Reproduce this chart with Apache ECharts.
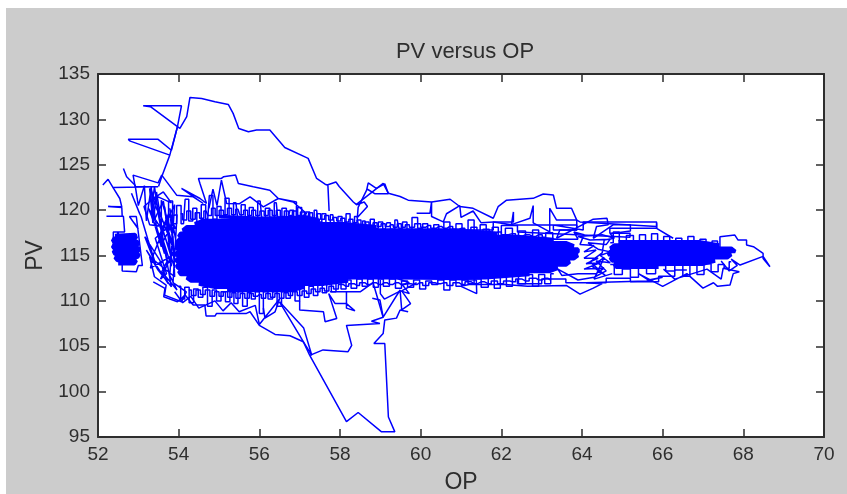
<!DOCTYPE html>
<html><head><meta charset="utf-8">
<style>html,body{margin:0;padding:0;background:#fff;width:847px;height:494px;overflow:hidden}
#bg{position:absolute;left:6px;top:8px;width:841px;height:486px;background:#cccccc}
#c{position:absolute;left:0;top:0;width:847px;height:494px}</style>
<script src="https://cdn.jsdelivr.net/npm/echarts@6/dist/echarts.min.js"></script></head>
<body><div id="bg"></div><div id="c"></div>
<script>
const titleText = 'PV versus OP', xName = 'OP', yName = 'PV';

const upperLoop = [[53.5,122.6],[53.58,123.67],[53.78,126.06],[53.97,129.19],[54.03,129.0],[54.2,130.29],[54.28,132.42],[54.57,132.31],[54.9,131.94],[55.23,131.65],[55.35,130.66],[55.49,129.0],[55.73,128.64],[55.93,128.82],[56.26,128.82],[56.63,126.9],[57.21,125.7],[57.42,123.49],[57.63,122.86],[57.7,122.75],[57.73,119.9],[57.7,122.8],[57.9,123.1],[57.98,122.6],[58.33,120.9],[58.41,120.6],[58.6,120.9],[58.68,120.4],[58.43,119.2],[58.45,120.3],[58.66,122.2],[58.7,123],[58.9,122.4],[59.11,122.9],[59.2,121.8],[58.87,121.8],[58.68,122.3]];
const flagBranches = [[53.97,129.19],[53.3,131.4],[53.12,131.5],[54.07,131.5],[53.97,129.19],[53.82,126.6],[53.49,127.8],[52.75,127.8],[52.8,127.6],[53.78,126.06]];
const leftCrest = [[52.12,122.77],[52.25,123.39],[52.37,122.5],[53.49,122.57],[52.92,122.6],[52.87,123.86],[53.49,123.0],[53.58,123.86],[53.95,121.65],[54.36,121.47],[54.61,120.73],[54.07,122.4],[54.53,121.28],[54.69,120.73],[54.53,122.9],[54.49,123.49],[55.06,123.49],[55.11,123.67],[55.41,123.86],[55.48,122.94],[55.85,122.57],[56.26,122.2],[56.47,121.28],[56.84,120.9],[57.17,119.63],[56.92,118.9],[56.92,120.9],[56.47,121.28],[56.1,120.36],[55.77,121.47],[55.5,120.7],[55.19,120.73],[55.06,123.3],[54.95,120.5],[54.85,122.3],[54.75,120.2]];
const leftSpur = [[52.63,124.59],[52.71,123.67],[52.92,122.75],[53.0,120.5],[53.15,122.7],[53.2,118.8],[53.32,122.6],[53.38,119],[53.45,122],[53.55,119.2],[53.42,120.5],[53.28,122.4],[53.36,118.6],[53.62,121],[53.7,118.8]];
const leftEdge = [[52.37,122.5],[52.54,121.28],[52.59,120.36],[52.25,120.4],[52.59,120.3],[52.6,119.33],[52.21,119.33],[52.63,119.33],[52.66,117.6],[52.38,117.6],[52.38,116.2],[52.5,117.6],[52.6,114],[52.6,113.3],[52.95,113.2],[53.0,113.9],[53.1,113.9],[52.95,119.3],[52.78,119.3],[53,117.9],[52.9,118.6]];
const leftBlock = [[52.42,117.2],[52.92,117.3],[52.95,116.9],[52.4,116.9],[52.36,116.55],[52.98,116.55],[53.0,116.2],[52.4,116.2],[52.36,115.85],[53.0,115.85],[53.02,115.5],[52.38,115.5],[52.42,115.15],[53.02,115.15],[52.98,114.8],[52.42,114.8],[52.48,114.45],[52.95,114.45],[52.9,114.1],[52.5,114.1]];
const leftMesh = [[52.83,121.85],[53.03,119.64],[53.07,119.27],[53.24,116.7],[53.45,113.76],[53.16,117.07],[53.53,114.5],[53.74,111.9],[53.2,115.6],[53.49,113.4],[53.82,111.55],[53.45,120.74],[53.57,118.17],[53.78,115.6],[53.65,120.4],[53.74,117.8],[53.94,114.9],[53.32,122.2],[53.45,118.17],[53.65,115.2],[53.4,122.6],[53.32,119.64],[53.57,115.96],[53.57,121.1],[53.86,117.07],[53.9,112.66],[53.28,114.86],[53.4,112.66],[53.69,111.74],[53.65,110.63],[54.07,109.9],[54.19,111],[53.86,112],[53.96,119.5],[53.72,119.3],[53.82,113.8],[53.62,116.6],[53.86,118.6],[53.42,116.9],[53.7,113],[53.55,112.4],[53.95,116.2],[53.78,120.2],[53.9,113.6],[53.5,119.4],[53.72,114.4],[53.58,113.2],[53.96,111.2],[53.78,112.8],[53.9,120.6],[53.66,118.3],[53.38,115.2],[53.3,113.6],[53.84,115],[53.6,117.7],[53.25,120.2],[53.52,117.2],[53.75,119.6],[53.92,118],[53.28,118.4],[53.14,120.4],[53.35,121.2],[53.62,122],[53.82,120.8],[53.42,121.6]];
const lowerLeftEdge = [[53.37,112.1],[53.66,111.38],[53.63,110.46],[53.97,109.9],[54.16,110.64],[54.36,109.54],[54.65,109.54],[54.68,108.33],[54.9,108.33],[54.94,108.62],[55.68,108.62],[55.77,108.8],[56.0,107.3],[56.39,106.3],[56.76,106.16],[57.09,105.5],[57.3,104.0],[57.1,107],[56.5,109.9]];
const lowerSpike = [[56.5,109.9],[57.09,105.5],[57.25,104.0],[57.58,104.6],[58.2,104.4],[58.29,105.1],[58.16,107.3],[58.99,107.5],[58.78,107.75],[59.07,108.2],[58.99,110.1],[58.8,110.3]];
const spikeTail = [[57.25,104.0],[58.16,96.7],[58.45,97.7],[59.03,95.57],[59.36,95.57],[59.2,97.2],[59.11,105.3],[58.84,105.3],[59.07,106.4],[59.11,107.9],[59.4,108.1],[59.49,109],[59.69,108.8]];
const lowerHooks = [[56.1,109.2],[56.14,108.1],[56.39,108.8],[56.5,110.2],[56.0,107.4],[55.9,109.5],[55.5,108.8],[55.3,109.8],[55.1,108.9],[54.9,110],[54.5,109.2],[54.3,110.5],[54.1,109.8],[53.9,111]];
const lowerSteps = [[57.0,110],[57.0,109],[57.59,108.8],[57.63,107.7],[57.92,108.05],[57.72,110.8],[57.88,109.7],[58.16,109.7],[58.16,109.2],[58.37,108.9],[58.16,109.7],[58.16,111],[57.75,111],[58.5,111],[58.82,112],[59.07,108.2],[59.49,111.2],[59.53,109],[59.75,109.7],[59.53,111.1],[59.9,112]];
const lowerRight = [[59.0,112.3],[59.0,110.8],[59.1,110.2],[59.5,111.1],[59.72,110.8],[59.54,111.8],[59.72,112],[59.4,112.5],[61.38,112.3],[61.39,110.8],[61.0,111.6],[61.2,111.8],[62.1,111.8],[62.65,111.6],[63.61,111.7],[63.95,110.75],[64.28,111.4],[64.5,111.9],[64.1,112],[65.6,112.2],[66.0,112.6],[65.65,112.3],[65.4,113],[66,111.6],[66.6,113],[67.0,111.4],[67.26,112],[67.36,111.6],[67.67,111.75],[67.75,113],[67.9,113.2],[67.5,113.6],[67.45,112.4],[67.1,113.5],[66.3,112.4],[66.02,113.5]];
const coreWest = [[55.0,119.3],[56,119.1],[57.2,119.2],[57.5,118.85],[56,118.9],[54.6,118.85],[54.4,118.5],[56,118.5],[58.1,118.5],[58.9,118.15],[56,118.2],[54.2,118.15],[54.1,117.8],[57,117.8],[60.8,117.8],[61.9,117.45],[57,117.5],[54.05,117.45],[54,117.1],[58,117.1],[62.4,117.1],[63.3,116.75],[58,116.8],[54,116.75],[53.95,116.4],[63.6,116.4],[63.8,116.05],[53.95,116.05],[53.95,115.7],[63.9,115.7],[63.9,115.35],[53.95,115.35],[53.95,115],[63.9,115],[63.8,114.65],[53.95,114.65],[53.95,114.3],[63.7,114.3],[63.6,113.95],[53.95,113.95],[53.98,113.6],[63.4,113.6],[63.2,113.25],[54,113.25],[54.05,112.9],[62.7,112.9],[61.6,112.55],[54.2,112.55],[54.3,112.2],[58.2,112.2],[57.6,111.85],[54.5,111.85],[54.9,111.5],[57.1,111.5],[56.8,111.15],[55.2,111.15]];
const coreEast = [[64.9,116.5],[66.9,116.5],[67.4,116.15],[64.8,116.15],[64.7,115.8],[67.7,115.8],[67.8,115.45],[64.7,115.45],[64.65,115.1],[67.7,115.1],[67.6,114.75],[64.7,114.75],[64.75,114.4],[67.3,114.4],[67,114.05],[64.8,114.05],[64.85,113.7],[65.9,113.7]];
const topFringe = [[53.7,118],[53.8,121],[53.9,118.5],[54,120.5],[54.12,118.5],[54.2,121.2],[54.3,118.8],[54.4,120.2],[54.5,118.7],[54.62,120.6],[54.72,119],[54.8,121.6],[54.9,119],[55,120.4],[55.1,119.2],[55.2,121.3],[55.3,119.2],[55.42,120.8],[55.5,119.2],[55.6,120.6],[55.7,119.2],[55.8,120.3],[55.9,119.1],[56.02,121],[56.1,119.1],[56.2,120.2],[56.32,119.1],[56.42,120.8],[56.5,119],[56.62,120.2],[56.72,119.2],[56.8,120],[56.9,119.2],[57,120.3],[57.1,119],[57.2,119.8],[57.3,118.9],[57.42,120],[57.5,118.7],[57.6,119.6],[57.7,118.6],[57.82,119.5],[57.9,118.5],[58,119.3],[58.1,118.5],[58.2,119.6],[58.3,118.3],[58.42,119.3],[58.5,118.2],[58.62,118.8],[58.7,118.1],[58.8,119],[58.9,118],[59,118.7],[59.12,117.9],[59.2,118.6],[59.3,117.9],[59.42,118.9],[59.5,118],[59.6,118.7],[59.72,117.9],[59.85,119.2],[60,118],[60.1,118.5],[60.25,117.8],[60.4,118.4],[60.5,117.8],[60.65,118.7],[60.8,117.7],[60.95,118.5],[61.1,117.5],[61.25,118.9],[61.4,117.4],[61.55,118.4],[61.7,117.1],[61.85,118.1],[62,117],[62.2,118],[62.35,116.8],[62.5,117.7],[62.7,116.8],[62.85,117.8],[63,116.8],[63.2,117.5],[63.35,116.8]];
const topFringeFine = [[54.05,119.6],[54.15,118.9],[54.25,119.9],[54.35,119],[54.47,119.7],[54.57,119.1],[54.68,119.9],[54.77,119.4],[54.86,120.2],[54.95,119.4],[55.06,120],[55.16,119.5],[55.26,120.2],[55.36,119.5],[55.47,120.1],[55.56,119.5],[55.66,120],[55.76,119.4],[55.86,120],[55.96,119.4],[56.07,119.9],[56.17,119.4],[56.27,120],[56.37,119.4],[56.47,120],[56.57,119.3],[56.67,119.9],[56.77,119.4],[56.87,119.9],[56.97,119.4],[57.07,119.8],[57.17,119.3],[57.27,119.7],[57.37,119.1],[57.47,119.6],[57.57,119],[57.67,119.4],[57.77,118.9],[57.87,119.2],[57.97,118.8],[58.07,119.1],[58.17,118.7],[58.27,119],[58.37,118.6],[58.47,118.9],[58.57,118.4],[58.67,118.7],[58.77,118.3],[58.87,118.6],[58.97,118.2],[59.07,118.5],[59.17,118.2],[59.27,118.4],[59.37,118.1],[59.47,118.5],[59.57,118.1],[59.67,118.4],[59.77,118.1],[59.93,118.5],[60.07,118.1],[60.18,118.3],[60.32,118],[60.45,118.2],[60.58,118],[60.72,118.2],[60.87,117.9],[61.02,118],[61.17,117.7],[61.32,118.1],[61.47,117.6],[61.62,117.9],[61.78,117.4],[61.92,117.6],[62.08,117.3],[62.27,117.4],[62.43,117.1],[62.6,117.3],[62.78,117.1],[62.93,117.3],[63.1,117]];
const bottomFringe = [[54,111.6],[54.1,110.2],[54.2,111.5],[54.32,109.8],[54.42,111.3],[54.55,110.4],[54.65,111.5],[54.78,109.4],[54.88,111.2],[55,110],[55.1,111],[55.22,109.9],[55.32,111],[55.42,109.7],[55.52,111],[55.65,109.4],[55.75,110.9],[55.85,110.2],[55.95,111],[56.05,108.6],[56.15,111],[56.28,110.2],[56.38,111],[56.5,109.4],[56.6,111],[56.72,110.3],[56.82,111.2],[56.95,110],[57.05,111.6],[57.18,110.4],[57.28,111.6],[57.4,110.6],[57.5,111.8],[57.62,110.9],[57.72,112],[57.85,111],[57.95,112.2],[58.1,111.3],[58.2,112.3],[58.35,111.4],[58.48,112.4],[58.62,111.6],[58.75,112.4],[58.9,111.5],[59,112.4],[59.15,111.6],[59.3,112.4],[59.45,111.4],[59.6,112.2],[59.75,111.5],[59.9,112.3],[60.05,111.3],[60.2,112.2],[60.35,111.8],[60.5,112.3],[60.65,111.2],[60.8,112.3],[60.95,111.6],[61.1,112.3],[61.25,111.9],[61.4,112.4],[61.6,111.5],[61.75,112.6],[61.9,111.4],[62.05,112.6],[62.2,111.6],[62.35,112.8],[62.5,111.9],[62.7,112.9],[62.85,111.6],[63,112.9],[63.15,111.9],[63.3,113]];
const bottomFringeFine = [[54.25,111.2],[54.38,110.6],[54.48,111.2],[54.6,110.7],[54.72,111.2],[54.83,110.5],[54.95,111],[55.05,110.5],[55.16,111],[55.27,110.4],[55.37,110.9],[55.47,110.3],[55.58,110.8],[55.7,110.3],[55.8,110.8],[55.9,110.5],[56,110.7],[56.1,110.3],[56.22,110.8],[56.33,110.4],[56.44,110.8],[56.55,110.3],[56.67,110.9],[56.77,110.6],[56.88,111],[57,110.6],[57.12,111.1],[57.23,110.8],[57.34,111.3],[57.45,111],[57.56,111.4],[57.67,111.1],[57.78,111.6],[57.9,111.3],[58.02,111.8],[58.15,111.6],[58.28,111.9],[58.42,111.7],[58.55,112],[58.68,111.8],[58.82,112],[58.97,111.8],[59.1,112],[59.23,111.8],[59.38,112],[59.52,111.8],[59.68,111.9],[59.83,111.8],[59.98,112],[60.12,111.7],[60.28,112],[60.43,111.9],[60.58,112],[60.72,111.7],[60.88,112],[61.02,111.8],[61.18,112.1],[61.33,111.9],[61.5,112.1],[61.67,111.9],[61.83,112.2],[61.98,111.9],[62.13,112.2],[62.28,112.1],[62.43,112.4],[62.6,112.2],[62.78,112.5],[62.93,112.3],[63.08,112.5],[63.22,112.3]];
const gapWeave = [[63.3,116.8],[63.9,116.8],[63.8,117.6],[64.05,117.3],[63.95,116.2],[64.3,116.1],[64.05,115.4],[64.35,115.6],[64.15,115],[64.05,114.7],[64.4,114.7],[64.1,114.1],[64.45,114.2],[64.05,113.5],[64.55,113.6],[64.35,113],[63.9,113],[63.5,112.8],[63.4,113.5],[63.9,112.3],[64.3,112.6],[64.6,113.3],[64.35,114.4],[64.7,114.2],[64.45,115],[64.7,115.4],[64.4,115.7],[64.15,116.4],[64.6,116.2],[64.7,116.8],[64.2,116.7],[63.9,117.1],[64.5,117.3],[64.8,116.9],[64.55,116.7],[64.5,115.3],[64.2,114.3],[64.58,112.8],[64.25,113.8],[64.55,114.8],[64.3,112.4],[64.75,113]];
const eastFringe = [[64.7,116.4],[64.85,117.6],[65,116.6],[65.2,117.2],[65.35,116.5],[65.5,117.3],[65.65,116.6],[65.8,117.4],[65.95,116.4],[66.1,117.1],[66.25,116.2],[66.4,116.9],[66.55,116.3],[66.7,117.1],[66.85,116.1],[67,116.8],[67.15,116],[67.3,116.6],[67.42,115.9]];
const eastTail = [[67.42,115.9],[67.42,117.07],[67.79,117.25],[67.87,116.7],[68.08,116.7],[68.08,116.15],[68.25,115.97],[68.49,115.23],[68.49,114.68],[68.66,113.76],[68.49,114.9],[67.92,113.95],[67.7,114.6],[67.85,113.9],[67.65,113.3],[67.45,114.4]];
const eastUnder = [[64.7,114],[64.9,112.9],[65.1,113.5],[65.3,112.6],[65.5,113.6],[65.7,113],[65.95,113.9],[66.2,113.3],[66.4,114.2],[66.6,112.7],[66.75,114],[66.95,112.9],[67.1,114.1],[67.3,113.2],[67.45,114],[67.6,113.6],[67.7,114.3]];
const upperSteps = [[58.4,120.6],[59.07,122.95],[59.2,121.85],[59.49,121.5],[59.69,121.1],[60.27,120.9],[60.73,121.2],[60.97,120.4],[61.3,120.2],[61.8,119.1],[61.92,120.38],[62.13,121.1],[62.79,121.3],[63.04,121.78],[63.29,121.67],[63.37,120.2],[63.74,120.2],[63.87,118.9],[63.95,118.7],[65.85,118.2],[65.85,118.54],[65.85,118],[66.26,116.9]];
const midSteps = [[59.9,119.65],[60.23,119.65],[60.27,120.9],[60.27,119.3],[60.56,118.7],[60.64,119.6],[60.97,120.5],[61,119.2],[61.3,119.9],[61.5,118.6],[61.8,118.7],[62.3,118.7],[62.3,119.8],[62.25,118.4],[62.71,119.1],[62.79,120.5],[62.79,118.6],[63.2,117.6],[63.2,120.2],[63.37,118.9],[63.87,118.9],[63.87,117.8],[63.45,117.8],[63.37,116.9],[64.28,119],[64.62,119.1],[64.65,118.4],[64.36,118.2],[64.28,116.9],[64.78,118.4],[65.2,118.4],[65.2,117.7],[64.7,117.4],[64.8,116.9]];
const stairRows = [[61.06,117.8],[61.8,117.8],[61.8,118.7],[62.3,118.36],[63.87,118.36],[63.87,117.8],[63.29,117.8],[63.29,118.36],[64.03,117.8],[64.03,118.7],[65.85,118.7],[65.85,118],[64.69,118],[64.69,117.44],[65.19,117.44],[65.19,117],[62.4,117.6],[62.4,118.3],[62.0,118.3],[62,117.3]];
const lowerStairs = [[62.4,112.4],[62.4,111.9],[63,111.9],[63,112.4],[63.6,112.4],[63.6,112],[64.6,112],[64.6,112.5],[65.2,112.5],[65.2,112.1],[65.9,112.1],[65.9,112.7],[66.3,112.7],[66.3,113.4],[66.6,113.4]];
const free = [upperLoop,flagBranches,leftCrest,leftSpur,leftEdge,leftMesh,lowerLeftEdge,lowerSpike,spikeTail,lowerHooks,lowerSteps,lowerRight,gapWeave,eastTail,upperSteps,midSteps,stairRows,lowerStairs];
const stepped = [topFringe,topFringeFine,bottomFringe,bottomFringeFine,eastFringe,eastUnder];
const thick = [leftBlock,coreWest,coreEast];
const base = {type:'line',showSymbol:false,animation:false,silent:true};
const series = free.map(d=>({...base,data:d,lineStyle:{color:'#0000ff',width:1.5}}))
  .concat(stepped.map(d=>({...base,data:d,step:'middle',lineStyle:{color:'#0000ff',width:1.5}})))
  .concat(thick.map(d=>({...base,data:d,lineStyle:{color:'#0000ff',width:3.6,cap:'butt',join:'bevel'}})));

const ink = '#2e2e2e', font = '"Liberation Sans",Arial,sans-serif';
const lab = {color:ink,fontFamily:font,fontSize:19};
const mk = (pos,min,max,step,show,margin,extra)=>Object.assign({type:'value',position:pos,min,max,interval:step,
  splitLine:{show:false},axisLine:{show:true,onZero:false,lineStyle:{color:ink,width:2}},
  axisTick:{show:true,inside:true,length:8,lineStyle:{color:ink,width:1.5}},
  axisLabel:{show,...lab,margin}},extra||{});
const chart = echarts.init(document.getElementById('c'),null,{renderer:'canvas'});
chart.setOption({
  backgroundColor:'transparent',animation:false,
  title:{text:titleText,left:460,top:36,textAlign:'center',textStyle:{color:ink,fontFamily:font,fontSize:22,fontWeight:'normal'}},
  grid:{left:98,right:23,top:74,bottom:57,show:true,backgroundColor:'#fff',borderWidth:0,outerBoundsMode:'none'},
  xAxis:[mk('bottom',52,70,2,true,8,{name:xName,nameLocation:'middle',nameGap:34,nameTextStyle:{...lab,fontSize:23}}),mk('top',52,70,2,false,8)],
  yAxis:[mk('left',95,135,5,true,8,{name:yName,nameLocation:'middle',nameGap:51,nameTextStyle:{...lab,fontSize:23}}),mk('right',95,135,5,false,8)],
  series
});
</script></body></html>
